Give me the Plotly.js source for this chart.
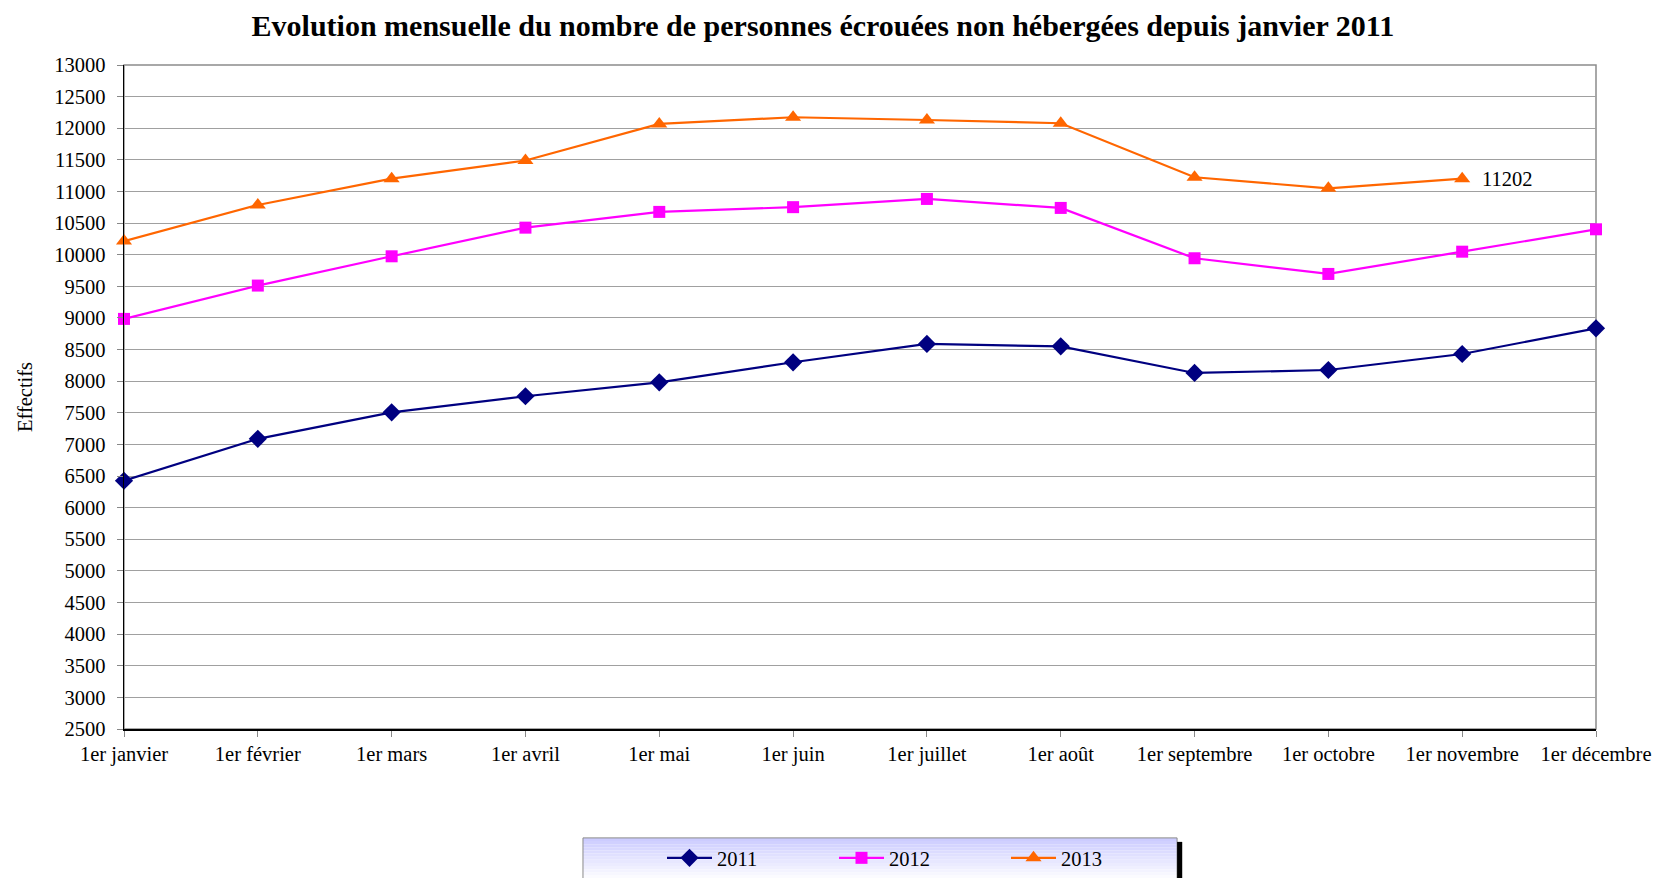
<!DOCTYPE html>
<html>
<head>
<meta charset="utf-8">
<script src="https://cdn.plot.ly/plotly-3.0.1.min.js"></script>
<style>html,body{margin:0;padding:0;background:#fff;}#chart{width:1659px;height:878px;}</style>
</head>
<body>
<div id="chart"></div>
<script>
const months = ["1er janvier","1er février","1er mars","1er avril","1er mai","1er juin","1er juillet","1er août","1er septembre","1er octobre","1er novembre","1er décembre"];
const values2011 = [6426, 7088, 7508, 7762, 7982, 8299, 8589, 8551, 8130, 8177, 8430, 8836];
const values2012 = [8985, 9512, 9975, 10428, 10677, 10752, 10882, 10740, 9944, 9696, 10048, 10402];
const values2013 = [10215, 10787, 11203, 11490, 12068, 12174, 12130, 12079, 11225, 11050, 11202, null];
const yTicks = [2500,3000,3500,4000,4500,5000,5500,6000,6500,7000,7500,8000,8500,9000,9500,10000,10500,11000,11500,12000,12500,13000];
const labelText = "11202";
const labelIndex = 10;

const serif = "'Liberation Serif','Times New Roman',serif";

const traces = [
  {name:"2011", x: months, y: values2011, type:"scatter", mode:"lines+markers",
   line:{color:"#000080", width:2.2}, marker:{symbol:"diamond", size:14, color:"#000080"}, cliponaxis:false},
  {name:"2012", x: months, y: values2012, type:"scatter", mode:"lines+markers",
   line:{color:"#FF00FF", width:2.2}, marker:{symbol:"square", size:12, color:"#FF00FF"}, cliponaxis:false},
  {name:"2013", x: months, y: values2013, type:"scatter", mode:"lines+markers",
   line:{color:"#FF6600", width:2.2}, marker:{symbol:"triangle-up", size:14, color:"#FF6600"}, cliponaxis:false}
];

// legend box gradient bands (decoration)
const shapes = [];
const bx0 = 0.3118, bx1 = 0.7154, by0 = -0.1640, by1 = -0.2300;
const nb = 14;
for (let i = 0; i < nb; i++) {
  const t = i / (nb - 1);
  const r = Math.round(204 + (255 - 204) * t), g = r;
  shapes.push({type:"rect", xref:"paper", yref:"paper", x0:bx0, x1:bx1,
    y0: by0 + (by1 - by0) * i / nb, y1: by0 + (by1 - by0) * (i + 1) / nb,
    fillcolor:`rgb(${r},${g},255)`, line:{width:0}, layer:"below"});
}
shapes.push({type:"rect", xref:"paper", yref:"paper", x0:bx0, x1:bx1, y0:by0, y1:by1,
  fillcolor:"rgba(0,0,0,0)", line:{color:"#8a8a8a", width:1}, layer:"below"});
shapes.push({type:"rect", xref:"paper", yref:"paper", x0:bx1, x1:bx1 + 0.0035, y0:by0 - 0.006, y1:by1,
  fillcolor:"#000", line:{width:0}, layer:"below"});
// plot frame (gray top/right)
shapes.push({type:"rect", xref:"paper", yref:"paper", x0:0, x1:1, y0:0, y1:1,
  fillcolor:"rgba(0,0,0,0)", line:{color:"#8c8c8c", width:1.5}, layer:"below"});

const layout = {
  width:1659, height:878,
  paper_bgcolor:"#fff", plot_bgcolor:"#fff",
  margin:{l:124, r:63, t:64.5, b:149, autoexpand:false},
  font:{family:serif, color:"#000", size:20},
  title:{text:"<b>Evolution mensuelle du nombre de personnes écrouées non hébergées depuis janvier 2011</b>",
    font:{family:serif, size:30, color:"#000"}, x:0.496, xanchor:"center", y:1-25/878, yanchor:"middle", yref:"container"},
  xaxis:{type:"category", categoryorder:"array", categoryarray: months, range:[0, 11],
    showgrid:false, zeroline:false, showline:true, linecolor:"#000", linewidth:2,
    ticks:"outside", ticklen:6, tickcolor:"#888", tickwidth:1, ticklabelstandoff:-1,
    tickfont:{family:serif, size:20.5, color:"#000"}, fixedrange:true},
  yaxis:{range:[2500, 13000], tickvals: yTicks, ticktext: yTicks.map(String),
    showgrid:true, gridcolor:"#a0a0a0", gridwidth:1, zeroline:false,
    showline:true, linecolor:"#000", linewidth:1.5,
    ticks:"outside", ticklen:6, tickcolor:"#888", ticklabelstandoff:7,
    tickfont:{family:serif, size:20.5, color:"#000"},
    title:{text:"Effectifs", font:{family:serif, size:20.5, color:"#000"}, standoff:16}},
  showlegend:true,
  legend:{orientation:"h", xref:"container", yref:"container", x:(670-8)/1659, xanchor:"left", y:1-858/878, yanchor:"middle",
    bgcolor:"rgba(0,0,0,0)", borderwidth:0, font:{family:serif, size:20.5, color:"#000"},
    entrywidth:112, entrywidthmode:"pixels", itemwidth:45, traceorder:"normal"},
  annotations:[{x: months[labelIndex], y: values2013[labelIndex], text: labelText, showarrow:false,
    xanchor:"left", yanchor:"middle", xshift:18, font:{family:serif, size:20.5, color:"#000"}}],
  shapes: shapes
};

Plotly.newPlot("chart", traces, layout, {displayModeBar:false, staticPlot:true});
</script>
</body>
</html>
